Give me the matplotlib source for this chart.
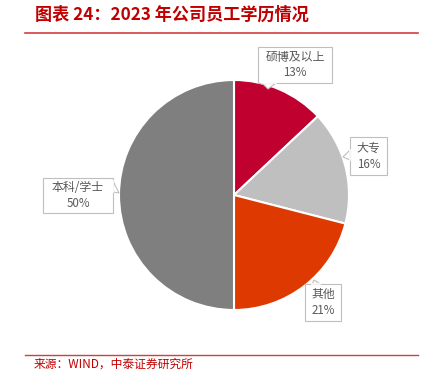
import matplotlib
matplotlib.use("Agg")
import matplotlib.pyplot as plt
from matplotlib.patches import Polygon, Rectangle

plt.rcParams['font.family'] = ['Noto Sans CJK SC', 'DejaVu Sans']

# Data
categories = ["硕博及以上", "大专", "其他", "本科/学士"]
shares = [13, 16, 21, 50]
colors = ["#C0002F", "#BFBFBF", "#DE3900", "#7F7F7F"]
title = "图表 24：2023 年公司员工学历情况"
source = "来源：WIND，中泰证券研究所"

W, H = 427, 382
fig = plt.figure(figsize=(W / 100, H / 100), dpi=100)

# pie axes: center (234,195) px, radius 115 px
cx, cy, r = 234, 195, 115
ax = fig.add_axes([(cx - r) / W, (H - cy - r) / H, 2 * r / W, 2 * r / H])
ax.pie(shares, colors=colors, startangle=90, counterclock=False,
       wedgeprops=dict(edgecolor="white", linewidth=1.5))
ax.set_xlim(-1, 1)
ax.set_ylim(-1, 1)
ax.axis("off")

# overlay in pixel coords
ov = fig.add_axes([0, 0, 1, 1])
ov.set_xlim(0, W)
ov.set_ylim(H, 0)
ov.axis("off")
ov.patch.set_alpha(0)

red = "#C00000"
ov.text(35, 15, title, color=red, fontsize=12.3, fontweight="bold",
        fontstyle="italic", va="center", ha="left")
ov.plot([25, 418], [33, 33], color="#D04040", lw=1.2)
ov.plot([25, 418], [355, 355], color="#D04040", lw=1.0)
ov.text(34, 364, source, color=red, fontsize=8.5, va="center", ha="left")

# callout boxes: (x0, y0, x1, y1), pointer polygon
boxes = [
    ((258, 47, 332, 83), [(262, 83), (276, 83), (268, 89)]),
    ((350, 137, 387, 175), [(350, 150), (350, 160), (343, 157)]),
    ((305, 284, 341, 321), [(312, 284), (320, 284), (314, 280)]),
    ((43, 178, 113, 213), [(113, 181), (113, 192), (119, 193)]),
]
txtc = "#595959"
for (b, ptr), cat, v in zip(boxes, categories, shares):
    x0, y0, x1, y1 = b
    ov.add_patch(Polygon(ptr, closed=True, facecolor="white",
                         edgecolor="#BFBFBF", lw=0.8, zorder=3))
    ov.add_patch(Rectangle((x0, y0), x1 - x0, y1 - y0, facecolor="white",
                           edgecolor="#BFBFBF", lw=0.8, zorder=4))
    p0, p1 = ptr[0], ptr[1]
    ov.plot([p0[0], p1[0]], [p0[1], p1[1]], color="white", lw=1.2, zorder=5)
    xm = (x0 + x1) / 2
    ym = (y0 + y1) / 2
    ov.text(xm, ym - 8, cat, color=txtc, fontsize=8.6, ha="center",
            va="center", zorder=6)
    ov.text(xm, ym + 8, f"{v}%", color=txtc, fontsize=8.3, ha="center",
            va="center", zorder=6)

fig.savefig("out.png", dpi=100)
